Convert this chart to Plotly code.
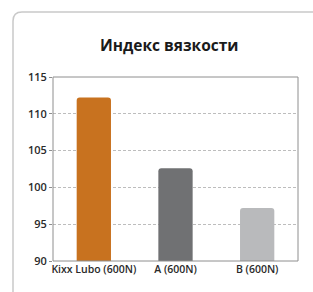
import plotly.graph_objects as go

categories = ["Kixx Lubo (600N)", "A (600N)", "B (600N)"]
values = [112.2, 102.6, 97.2]
colors = ["#C8721F", "#707173", "#B9BABC"]
title_text = "Индекс вязкости"
y_ticks = [90, 95, 100, 105, 110, 115]

W, H = 313, 292
# plot area in reference pixels: x 53..298, y 77..261
ml, mt = 53, 77
mr, mb = W - 298, H - 261
pw, ph = W - ml - mr, H - mt - mb

def px_x(p):
    return (p - ml) / pw

def px_y(p):
    return (H - mb - p) / ph

fig = go.Figure()
fig.add_trace(go.Bar(
    x=categories, y=values,
    marker=dict(color=colors, line=dict(width=0)),
    width=0.42,
))

# card outline with rounded top-left corner (open at right and bottom)
x0, y0, x1, y1 = px_x(13), px_y(12), px_x(330), px_y(300)
rx, ry = 9 / pw, 9 / ph
card_path = (f"M {x0},{y1} L {x0},{y0 - ry} Q {x0},{y0} {x0 + rx},{y0} L {x1},{y0}")
fig.add_shape(type="path", path=card_path, xref="paper", yref="paper",
              fillcolor="rgba(0,0,0,0)",
              line=dict(color="#C9C9C9", width=1.5), layer="below")
# plot frame
fig.add_shape(type="rect", xref="paper", yref="paper", x0=0, x1=1, y0=0, y1=1,
              line=dict(color="#8E8E8E", width=1), layer="above")

fig.add_annotation(text=f"<b>{title_text}</b>", xref="paper", yref="paper",
                   x=px_x(169), y=px_y(45), showarrow=False,
                   font=dict(family="Open Sans", size=15.5, color="#1a1a1a"),
                   xanchor="center", yanchor="middle")

fig.update_layout(
    width=W, height=H,
    margin=dict(l=ml, r=mr, t=mt, b=mb),
    paper_bgcolor="white", plot_bgcolor="white",
    showlegend=False,
    barcornerradius=3,
    font=dict(family="Open Sans", size=10, color="#333333"),
)
fig.update_yaxes(
    range=[90, 115], tickvals=y_ticks,
    showgrid=True, gridcolor="#BDBDBD", griddash="3px,2px", gridwidth=1,
    showline=False,
    ticks="outside", ticklen=3, tickcolor="#8E8E8E",
    tickfont=dict(family="Open Sans", size=11, color="#2a2a2a", weight=600),
    zeroline=False,
)
fig.update_xaxes(
    showline=False,
    ticks="", showgrid=False,
    tickfont=dict(family="Open Sans", size=10.5, color="#2a2a2a", weight=600),
)

page_fix = ("document.body.style.margin='0';"
            "document.body.style.overflow='hidden';"
            "document.documentElement.style.overflow='hidden';")
fig.write_html("out.html", post_script=page_fix,
               config={"displayModeBar": False})
